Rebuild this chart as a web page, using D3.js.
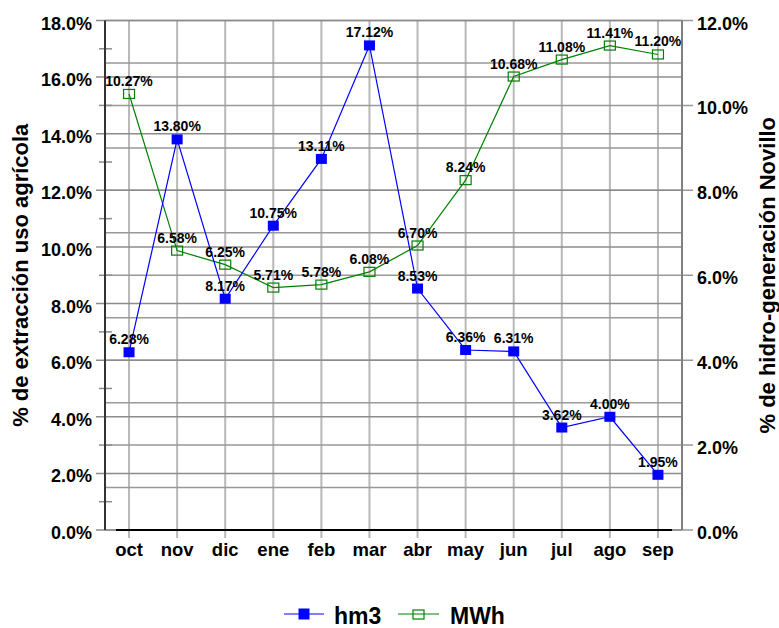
<!DOCTYPE html>
<html><head><meta charset="utf-8">
<script src="https://cdn.jsdelivr.net/npm/d3@7"></script>
<style>
html,body{margin:0;padding:0;background:#fff;}
svg{display:block;font-family:"Liberation Sans",Arial,sans-serif;font-weight:bold;}
</style></head>
<body>
<svg id="c" width="779" height="628"></svg>
<script>
const categories = ["oct","nov","dic","ene","feb","mar","abr","may","jun","jul","ago","sep"];
const hm3 = [6.28,13.80,8.17,10.75,13.11,17.12,8.53,6.36,6.31,3.62,4.00,1.95];
const mwh = [10.27,6.58,6.25,5.71,5.78,6.08,6.70,8.24,10.68,11.08,11.41,11.20];
const leftTicks = [0,2,4,6,8,10,12,14,16,18];
const leftMinor = [1,3,5,7,9,11,13,15,17];
const rightTicks = [0,2,4,6,8,10,12];
const rightMinor = [1,3,5,7,9,11];
const leftTitle = "% de extracción uso agrícola";
const rightTitle = "% de hidro-generación Novillo";
const seriesNames = ["hm3","MWh"];

const svg = d3.select("#c");
const L = 105, R = 682, T = 20.5, B = 530;
const x = d3.scalePoint().domain(categories).range([L, R]).padding(0.5);
const yL = d3.scaleLinear().domain([0,18]).range([B, T]);
const yR = d3.scaleLinear().domain([0,12]).range([B, T]);
const fmt = v => v.toFixed(1) + "%";

const g = svg.append("g");
// vertical gridlines
g.selectAll(".vg").data(categories).join("line")
  .attr("x1", d=>x(d)).attr("x2", d=>x(d)).attr("y1", T).attr("y2", B+8)
  .attr("stroke", "#b8b8b8").attr("stroke-width", 2);
// right gridlines every 1%
g.selectAll(".rg").data(rightTicks.concat(rightMinor)).join("line")
  .attr("x1", L).attr("x2", d => rightTicks.includes(d) ? 693 : R)
  .attr("y1", d=>yR(d)).attr("y2", d=>yR(d))
  .attr("stroke", "#999").attr("stroke-width", 1.5);
// left gridlines every 2%
g.selectAll(".lg").data(leftTicks).join("line")
  .attr("x1", 96).attr("x2", R).attr("y1", d=>yL(d)).attr("y2", d=>yL(d))
  .attr("stroke", "#8c8c8c").attr("stroke-width", 1.5);
// left minor ticks
g.selectAll(".lm").data(leftMinor).join("line")
  .attr("x1", 99).attr("x2", 112).attr("y1", d=>yL(d)).attr("y2", d=>yL(d))
  .attr("stroke", "#8c8c8c").attr("stroke-width", 1.5);
// axes
g.append("line").attr("x1", L).attr("x2", L).attr("y1", T).attr("y2", B)
  .attr("stroke", "#333").attr("stroke-width", 2);
g.append("line").attr("x1", R).attr("x2", R).attr("y1", T).attr("y2", B)
  .attr("stroke", "#808080").attr("stroke-width", 2);
g.append("line").attr("x1", 116).attr("x2", 672).attr("y1", B).attr("y2", B)
  .attr("stroke", "#000").attr("stroke-width", 2);

// tick labels
svg.selectAll(".ltl").data(leftTicks).join("text")
  .attr("x", 92).attr("y", d=>yL(d)).attr("dy", "0.5em")
  .attr("text-anchor", "end").attr("font-size", 18).attr("fill", "#000").text(fmt);
svg.selectAll(".rtl").data(rightTicks).join("text")
  .attr("x", 697).attr("y", d=>yR(d)).attr("dy", "0.5em")
  .attr("text-anchor", "start").attr("font-size", 18).attr("fill", "#000").text(fmt);
svg.selectAll(".xtl").data(categories).join("text")
  .attr("x", d=>x(d)).attr("y", 556)
  .attr("text-anchor", "middle").attr("font-size", 18.5).attr("fill", "#000").text(d=>d);

// axis titles
const midY = (T + B) / 2;
svg.append("text").attr("transform", `translate(28,${midY}) rotate(-90)`)
  .attr("text-anchor", "middle").attr("font-size", 22).text(leftTitle);
svg.append("text").attr("transform", `translate(775,${midY}) rotate(-90)`)
  .attr("text-anchor", "middle").attr("font-size", 22).text(rightTitle);

// series
const lineL = d3.line().x((d,i)=>x(categories[i])).y(d=>yL(d));
const lineR = d3.line().x((d,i)=>x(categories[i])).y(d=>yR(d));
svg.append("path").attr("d", lineR(mwh)).attr("fill","none").attr("stroke","#008000").attr("stroke-width",1.2);
svg.append("path").attr("d", lineL(hm3)).attr("fill","none").attr("stroke","#0000ff").attr("stroke-width",1.2);

svg.selectAll(".mm").data(mwh).join("rect")
  .attr("x",(d,i)=>x(categories[i])-5.5).attr("y",d=>yR(d)-4.5)
  .attr("width",11).attr("height",9)
  .attr("fill","none").attr("stroke","#008000").attr("stroke-width",1.2);
svg.selectAll(".hm").data(hm3).join("rect")
  .attr("x",(d,i)=>x(categories[i])-5.5).attr("y",d=>yL(d)-5)
  .attr("width",11).attr("height",10).attr("fill","#0000ff");

// data labels
svg.selectAll(".ml").data(mwh).join("text")
  .attr("x",(d,i)=>x(categories[i])).attr("y",d=>yR(d)-8)
  .attr("text-anchor","middle").attr("font-size",14).text(d=>d.toFixed(2)+"%");
svg.selectAll(".hl").data(hm3).join("text")
  .attr("x",(d,i)=>x(categories[i])).attr("y",d=>yL(d)-8)
  .attr("text-anchor","middle").attr("font-size",14).text(d=>d.toFixed(2)+"%");

// legend
const lg = svg.append("g");
lg.append("line").attr("x1",284).attr("x2",324).attr("y1",614).attr("y2",614).attr("stroke","#0000ff").attr("stroke-width",1.2);
lg.append("rect").attr("x",298.5).attr("y",608.5).attr("width",11).attr("height",11).attr("fill","#0000ff");
lg.append("text").attr("x",334).attr("y",624).attr("font-size",23).text(seriesNames[0]);
lg.append("line").attr("x1",398).attr("x2",439).attr("y1",614).attr("y2",614).attr("stroke","#008000").attr("stroke-width",1.2);
lg.append("rect").attr("x",413).attr("y",610).attr("width",11).attr("height",9).attr("fill","none").attr("stroke","#008000").attr("stroke-width",1.2);
lg.append("text").attr("x",450).attr("y",624).attr("font-size",23).text(seriesNames[1]);
</script>
</body></html>
